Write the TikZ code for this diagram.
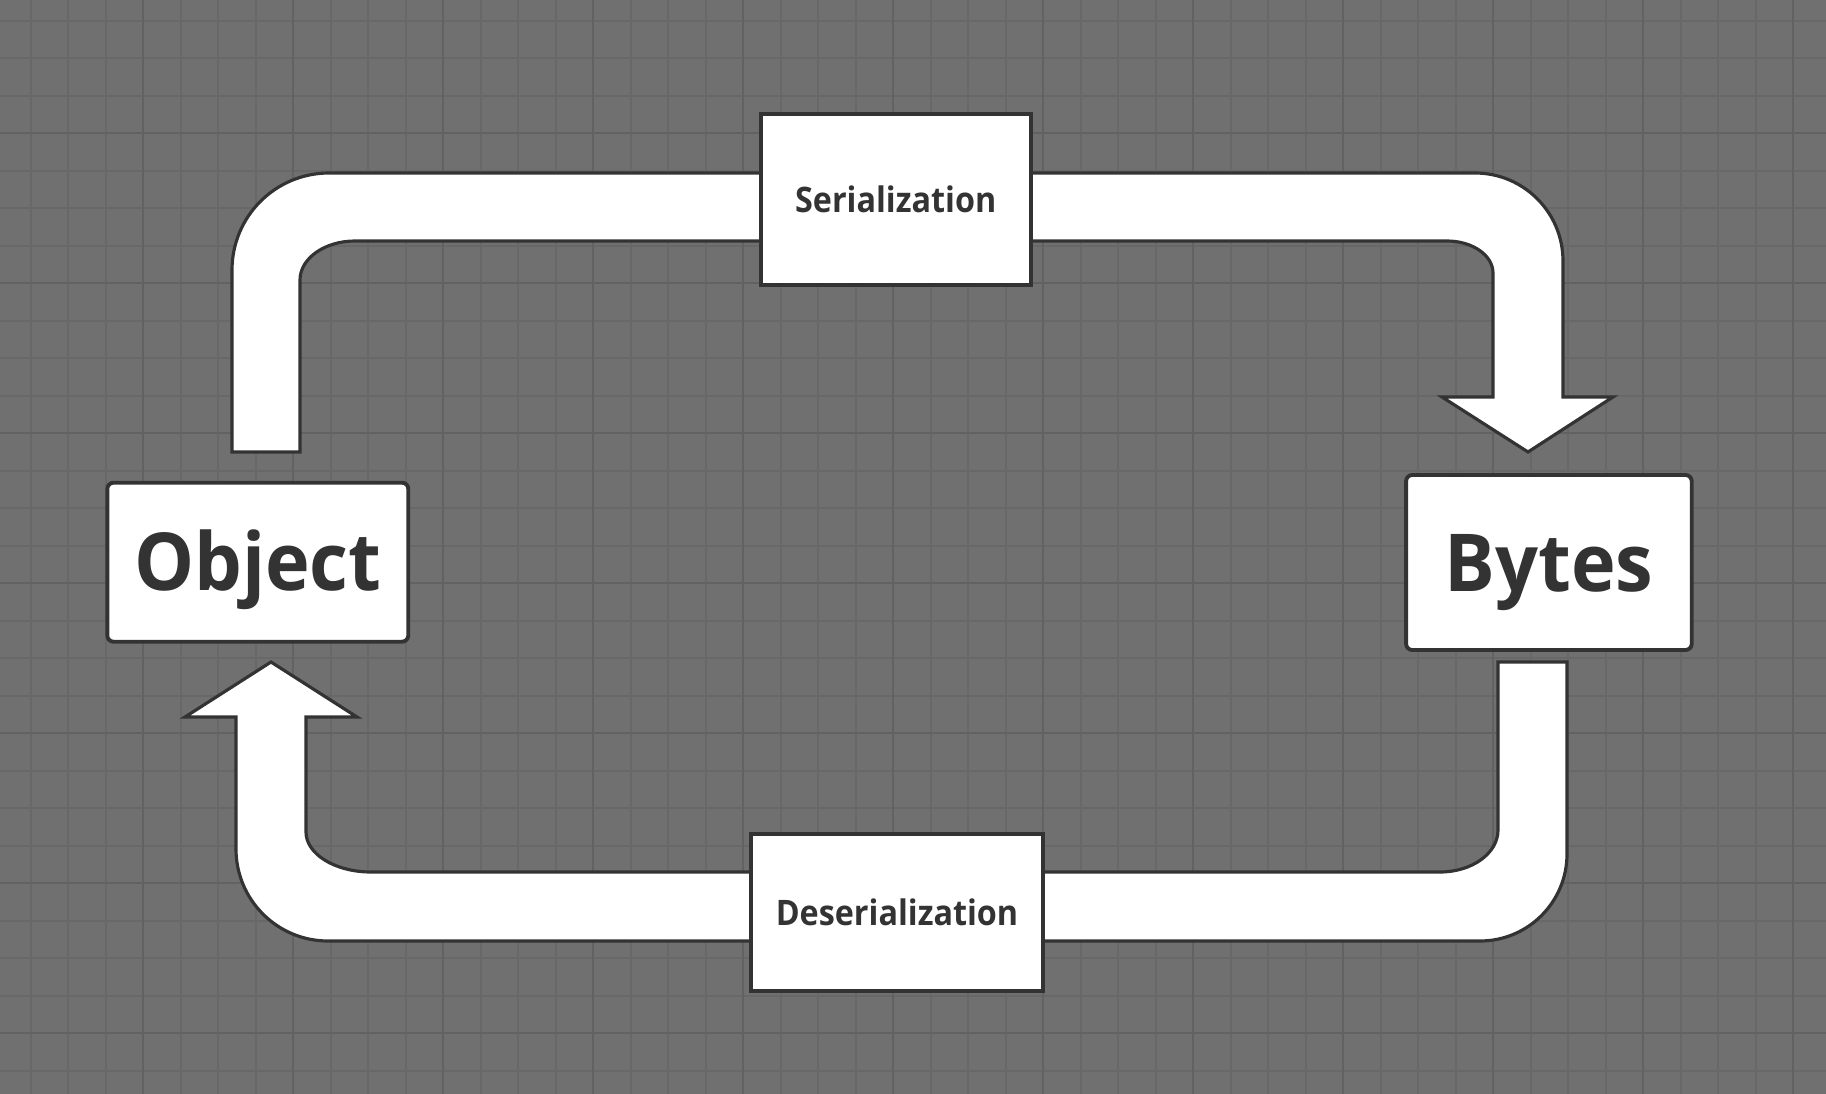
\documentclass[tikz,border=0pt]{standalone}
\usepackage{fontspec}
\setmainfont{Open Sans}
\newfontfamily\labelfont[FakeStretch=0.92]{Open Sans}
\newfontfamily\titlefont[FakeStretch=0.945]{Open Sans}
\definecolor{bg}{HTML}{707070}
\definecolor{gminor}{HTML}{686868}
\definecolor{gmajor}{HTML}{626262}
\definecolor{ink}{HTML}{333333}
\begin{document}
\begin{tikzpicture}[x=0.02cm,y=-0.02cm,
  arrowshape/.style={fill=white, draw=ink, line width=1.8pt, line join=miter},
  procbox/.style={draw=ink, fill=white, line width=2.2pt, inner sep=0pt, text=ink,
    font=\labelfont\bfseries\fontsize{20}{24}\selectfont, text height=14.5pt, text depth=0pt},
  databox/.style={draw=ink, fill=white, line width=2.2pt, inner sep=0pt, text=ink,
    rounded corners=3.5pt,
    font=\titlefont\bfseries\fontsize{45.5}{50}\selectfont, text height=32.5pt, text depth=0pt}]
\useasboundingbox (0,0) rectangle (1826,1094);
\fill[bg] (0,0) rectangle (1826,1094);
\begin{scope}
\clip (0,0) rectangle (1826,1094);
\foreach \k in {0,...,47} {\draw[gminor, line width=1.1pt] ({30.8+37.5*\k},0) -- ({30.8+37.5*\k},1094);}
\foreach \k in {0,...,28} {\draw[gminor, line width=1.1pt] (0,{20.8+37.5*\k}) -- (1826,{20.8+37.5*\k});}
\foreach \k in {0,...,11} {\draw[gmajor, line width=1.3pt] ({143.3+150*\k},0) -- ({143.3+150*\k},1094);}
\foreach \k in {0,...,6} {\draw[gmajor, line width=1.3pt] (0,{133.3+150*\k}) -- (1826,{133.3+150*\k});}
\end{scope}

% Serialization arrow (Object -> Bytes)
\draw[arrowshape] (232,452) -- (232,270)
  arc[start angle=180, end angle=270, radius=97]
  -- (1475,173)
  arc[start angle=270, end angle=360, radius=88]
  -- (1563,397) -- (1613,397) -- (1528,452) -- (1442,397) -- (1493,397)
  -- (1493,273)
  arc[start angle=0, end angle=-90, x radius=46, y radius=32]
  -- (355,241)
  arc[start angle=270, end angle=180, x radius=55, y radius=39]
  -- (300,452) -- cycle;

% Deserialization arrow (Bytes -> Object)
\draw[arrowshape] (1498,662) -- (1567,662) -- (1567,854)
  arc[start angle=0, end angle=90, radius=87]
  -- (328,941)
  arc[start angle=90, end angle=180, radius=92]
  -- (236,717) -- (185,717) -- (271,662) -- (357,717) -- (306,717)
  -- (306,832)
  arc[start angle=180, end angle=90, x radius=65, y radius=40]
  -- (1440,872)
  arc[start angle=90, end angle=0, x radius=58, y radius=42]
  -- cycle;

\node[procbox, minimum width=5.40cm, minimum height=3.42cm] (ser) at (895.7,199.5) {Serialization};
\node[procbox, minimum width=5.852cm, minimum height=3.134cm] (deser) at (897,912.4) {Deserialization};
\node[databox, minimum width=6.02cm, minimum height=3.18cm] (obj) at (257.8,562.2) {Object};
\node[databox, minimum width=5.714cm, minimum height=3.5cm] (bytes) at (1548.9,562.5) {Bytes};
\end{tikzpicture}
\end{document}
